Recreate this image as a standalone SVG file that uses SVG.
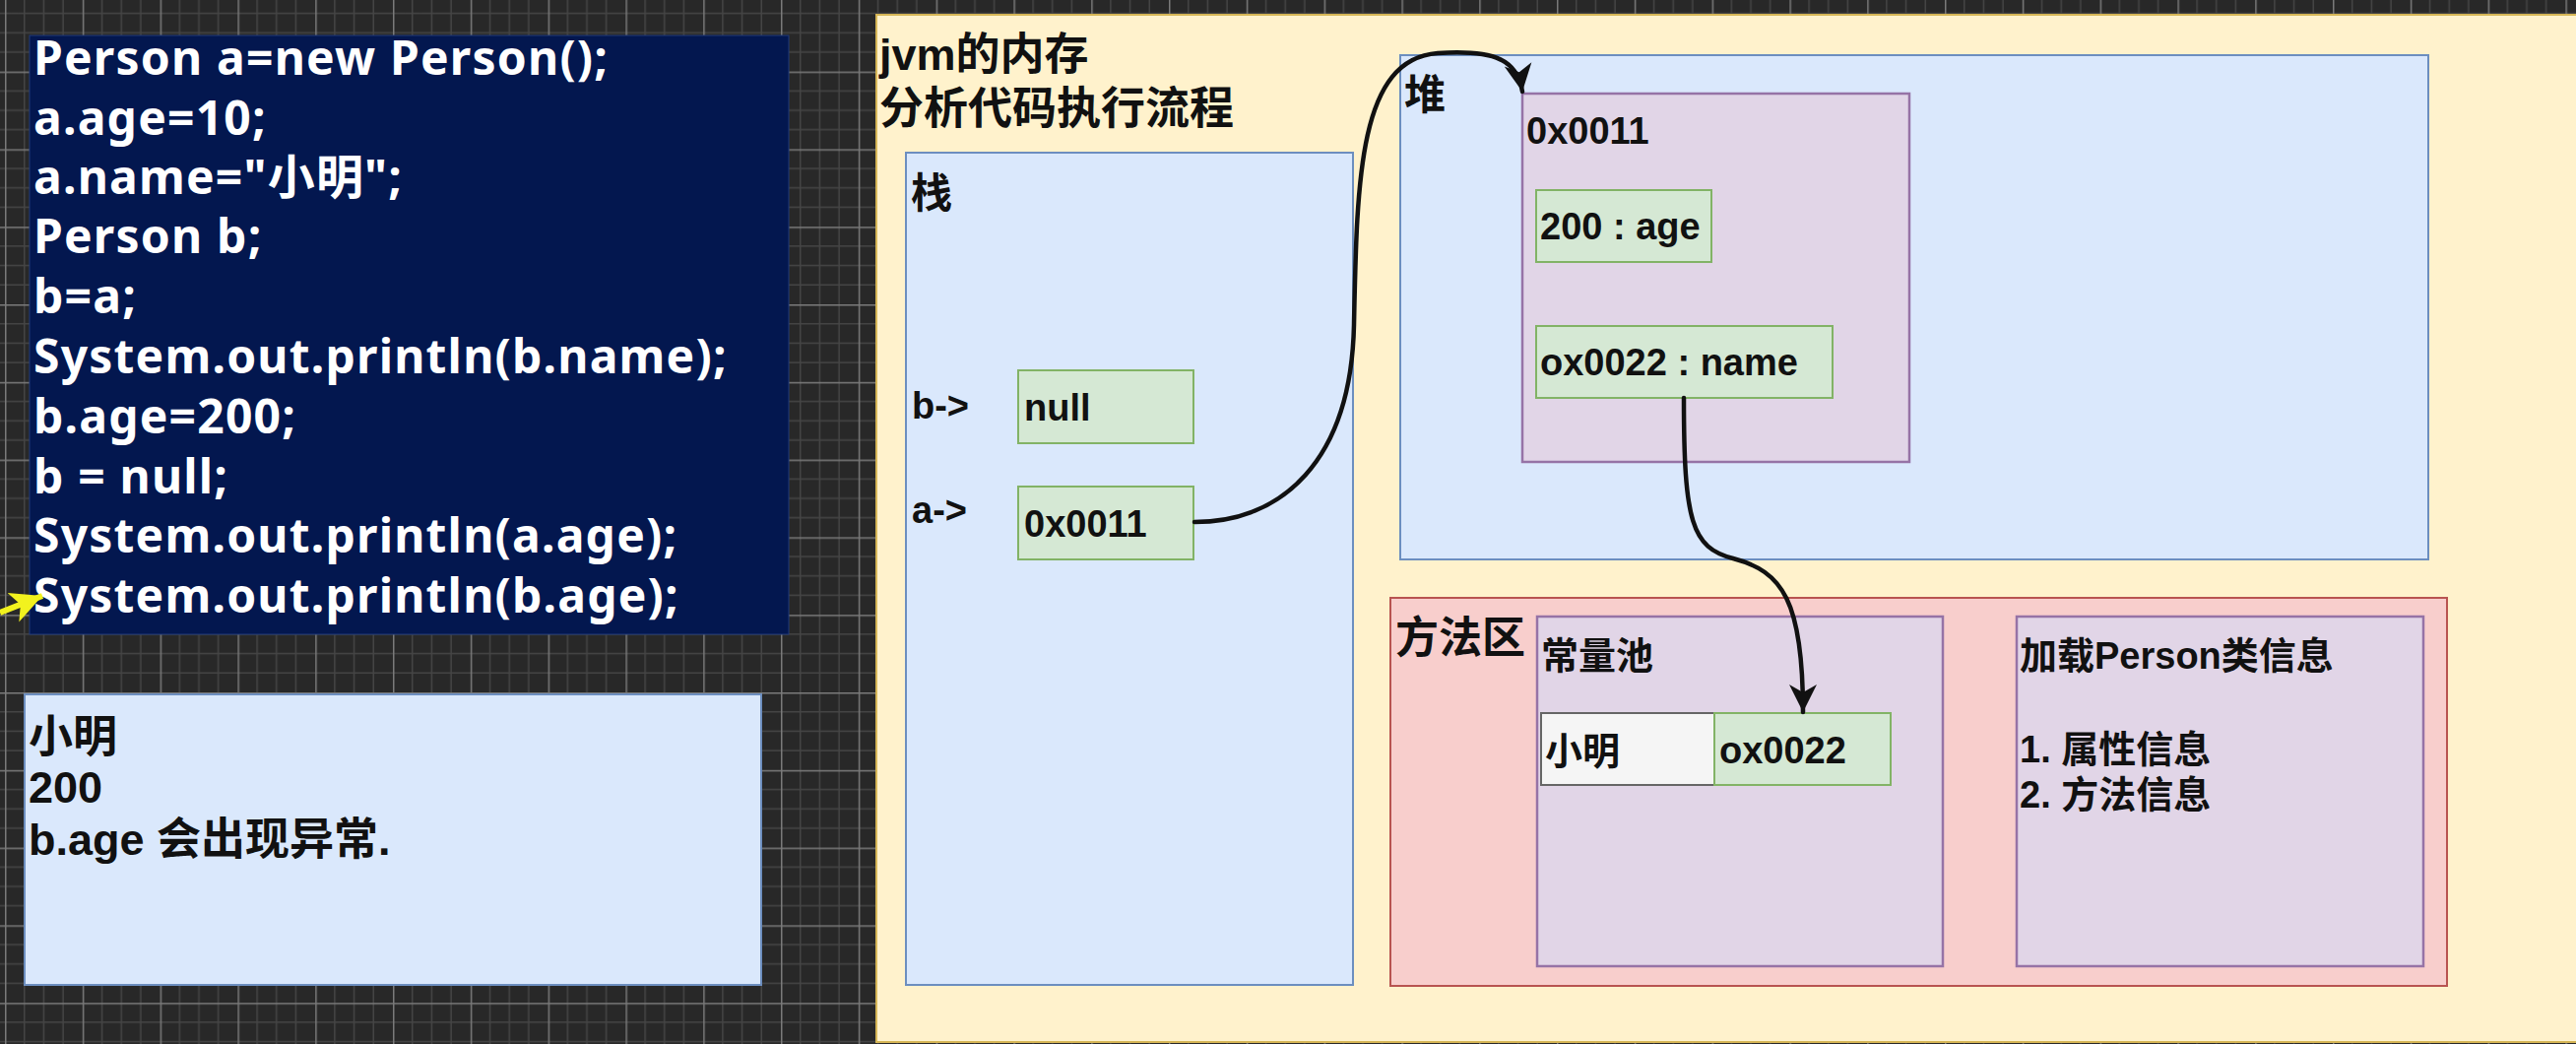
<svg xmlns="http://www.w3.org/2000/svg" width="2616" height="1060" viewBox="0 0 2616 1060">
<defs>
<pattern id="grid" x="5" y="72.6" width="78.8" height="78.8" patternUnits="userSpaceOnUse">
<rect width="78.8" height="78.8" fill="#282828"/>
<path d="M19.7 0V78.8M39.4 0V78.8M59.1 0V78.8M0 19.7H78.8M0 39.4H78.8M0 59.1H78.8" stroke="#454545" stroke-width="1.5" fill="none"/>
<path d="M0.75 0V78.8M0 0.75H78.8" stroke="#7a7a7a" stroke-width="1.5" fill="none"/>
</pattern>
<marker id="arr" viewBox="0 0 30 30" refX="28" refY="15" markerWidth="30" markerHeight="30" markerUnits="userSpaceOnUse" orient="auto">
<path d="M0,1 L28,15 L0,29 L8,15 Z" fill="#111"/>
</marker>
<marker id="yarr" viewBox="0 0 30 30" refX="28" refY="15" markerWidth="34" markerHeight="34" markerUnits="userSpaceOnUse" orient="auto">
<path d="M0,1 L28,15 L0,29 L7,15 Z" fill="#f2f21e"/>
</marker>
<style>
.code{font-family:"Noto Sans","Noto Sans CJK SC",sans-serif;font-weight:700;font-size:48px;letter-spacing:1.2px;fill:#ffffff}
.lbl{font-family:"Liberation Sans","Noto Sans CJK SC",sans-serif;font-weight:700;font-size:38px;fill:#111}
.big{font-family:"Liberation Sans","Noto Sans CJK SC",sans-serif;font-weight:700;font-size:44px;fill:#111}
.res{font-family:"Liberation Sans","Noto Sans CJK SC",sans-serif;font-weight:700;font-size:45px;fill:#111}
.blue{fill:#dae8fc;stroke:#6c8ebf;stroke-width:2}
.green{fill:#d5e8d4;stroke:#82b366;stroke-width:2}
.purple{fill:#e1d5e7;stroke:#9673a6;stroke-width:2.5}
.red{fill:#f8cecc;stroke:#b85450;stroke-width:2}
.gray{fill:#f5f5f5;stroke:#666666;stroke-width:2}
.edge{fill:none;stroke:#111;stroke-width:4.5;stroke-linecap:round}
</style>
</defs>
<rect width="2616" height="1060" fill="url(#grid)"/>

<g id="code">
<rect x="30" y="36" width="771" height="608" fill="#03174f" stroke="#203a7a" stroke-width="1"/>
<text class="code" x="34" y="76">Person a=new Person();</text>
<text class="code" x="34" y="137">a.age=10;</text>
<text class="code" x="34" y="197">a.name="小明";</text>
<text class="code" x="34" y="257">Person b;</text>
<text class="code" x="34" y="318">b=a;</text>
<text class="code" x="34" y="379">System.out.println(b.name);</text>
<text class="code" x="34" y="440">b.age=200;</text>
<text class="code" x="34" y="501">b = null;</text>
<text class="code" x="34" y="561">System.out.println(a.age);</text>
<text class="code" x="34" y="622">System.out.println(b.age);</text>
</g>

<g id="pointer">
<line x1="0" y1="622" x2="43" y2="605" stroke="#f2f21e" stroke-width="6" marker-end="url(#yarr)"/>
</g>

<g id="result">
<rect class="blue" x="25" y="705" width="748" height="295"/>
<text class="res" x="29" y="764">小明</text>
<text class="res" x="29" y="815">200</text>
<text class="res" x="29" y="868">b.age 会出现异常.</text>
</g>

<g id="jvm">
<rect x="890" y="15" width="1740" height="1043" fill="#fff2cc" stroke="#d6b656" stroke-width="2"/>
<text class="big" x="893" y="71" style="font-size:45px">jvm的内存</text>
<text class="big" x="893" y="126" style="font-size:45px">分析代码执行流程</text>
</g>

<g id="stack">
<rect class="blue" x="920" y="155" width="454" height="845"/>
<text class="big" x="925" y="211" style="font-size:42px">栈</text>
<text class="lbl" x="926" y="425">b-&gt;</text>
<text class="lbl" x="926" y="531">a-&gt;</text>
</g>
<g id="b-null">
<rect class="green" x="1034" y="376" width="178" height="74"/>
<text class="lbl" x="1040" y="427">null</text>
</g>
<g id="a-ref">
<rect class="green" x="1034" y="494" width="178" height="74"/>
<text class="lbl" x="1040" y="545">0x0011</text>
</g>

<g id="heap">
<rect class="blue" x="1422" y="56" width="1044" height="512"/>
<text class="big" x="1426" y="111" style="font-size:42px">堆</text>
</g>
<g id="person-object">
<rect class="purple" x="1546" y="95" width="393" height="374"/>
<text class="lbl" x="1550" y="146">0x0011</text>
</g>
<g id="field-age">
<rect class="green" x="1560" y="193" width="178" height="73"/>
<text class="lbl" x="1564" y="243">200 : age</text>
</g>
<g id="field-name">
<rect class="green" x="1560" y="331" width="301" height="73"/>
<text class="lbl" x="1564" y="381">ox0022 : name</text>
</g>

<g id="method-area">
<rect class="red" x="1412" y="607" width="1073" height="394"/>
<text class="big" x="1417" y="663">方法区</text>
</g>
<g id="constant-pool">
<rect class="purple" x="1561" y="626" width="412" height="355"/>
<text class="lbl" x="1565" y="679">常量池</text>
</g>
<g id="str-xiaoming">
<rect class="gray" x="1565" y="724" width="176" height="73"/>
<text class="lbl" x="1569" y="776">小明</text>
</g>
<g id="str-addr">
<rect class="green" x="1741" y="724" width="179" height="73"/>
<text class="lbl" x="1746" y="775">ox0022</text>
</g>
<g id="class-info">
<rect class="purple" x="2048" y="626" width="413" height="355"/>
<text class="lbl" x="2051" y="679">加载Person类信息</text>
<text class="lbl" x="2051" y="774">1. 属性信息</text>
<text class="lbl" x="2051" y="820">2. 方法信息</text>
</g>

<g id="connectors">
<path class="edge" d="M1213,530 C1300,530 1372,470 1375,330 C1378,180 1380,60 1460,54 C1520,50 1541,62 1546,93" marker-end="url(#arr)"/>
<path class="edge" d="M1710,404 C1710,530 1718,556 1760,567 C1810,580 1831,610 1831,723" marker-end="url(#arr)"/>
</g>
</svg>
